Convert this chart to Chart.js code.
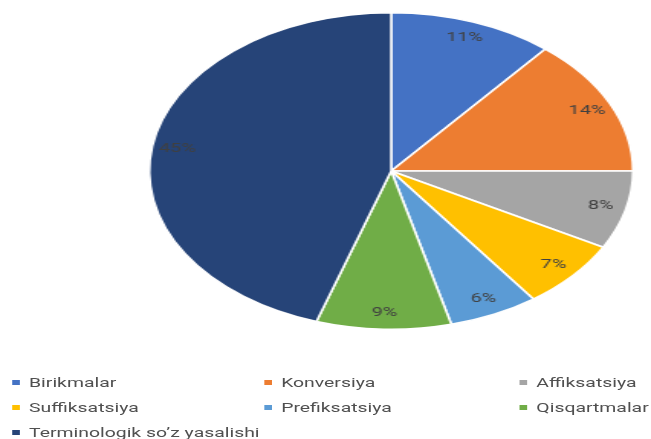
<!DOCTYPE html>
<html>
<head>
<meta charset="utf-8">
<script src="https://cdn.jsdelivr.net/npm/chart.js@4.4.1/dist/chart.umd.min.js"></script>
<style>
  html, body { margin: 0; padding: 0; background: #fff; overflow: hidden; }
  #wrap { position: absolute; left: 0; top: 0; width: 426px; height: 439px;
          transform-origin: 0 0; transform: scaleX(1.528); }
  #c { position: absolute; left: 0; top: 0; }
  #legend { position: absolute; left: 0; top: 0; width: 426px; height: 439px;
            font-family: Roboto, "Liberation Sans", Arial, sans-serif; font-size: 12.7px; color: #505050; }
  .item { position: absolute; white-space: nowrap; line-height: 16px; }
  .box { position: absolute; width: 5px; height: 5px; top: 5px; }
</style>
</head>
<body>
<div id="wrap">
  <canvas id="c" width="426" height="345"></canvas>
  <div id="legend"></div>
</div>
<script>
const categories = ["Birikmalar", "Konversiya", "Affiksatsiya", "Suffiksatsiya", "Prefiksatsiya", "Qisqartmalar", "Terminologik so\u2019z yasalishi"];
const values = [11, 14, 8, 7, 6, 9, 45];
const colors = ["#4472C4", "#ED7D31", "#A5A5A5", "#FFC000", "#5B9BD5", "#70AD47", "#264478"];

const labelPlugin = {
  id: 'pctLabels',
  afterDraw(chart) {
    const ctx = chart.ctx;
    const meta = chart.getDatasetMeta(0);
    const total = values.reduce((s, v) => s + v, 0);
    meta.data.forEach((arc, i) => {
      const p = arc.getProps(['x', 'y', 'startAngle', 'endAngle', 'outerRadius'], true);
      const mid = (p.startAngle + p.endAngle) / 2;
      const r = p.outerRadius * 0.895;
      const x = p.x + Math.cos(mid) * r;
      const y = p.y + Math.sin(mid) * r;
      ctx.save();
      ctx.fillStyle = '#404040';
      ctx.font = '13px Roboto, "Liberation Sans", Arial, sans-serif';
      ctx.textAlign = 'center';
      ctx.textBaseline = 'middle';
      ctx.fillText(Math.round(values[i] / total * 100) + '%', x, y);
      ctx.restore();
    });
  }
};

new Chart(document.getElementById('c'), {
  type: 'pie',
  data: {
    labels: categories,
    datasets: [{
      data: values,
      backgroundColor: colors,
      borderColor: '#ffffff',
      borderWidth: 1.5
    }]
  },
  options: {
    responsive: false,
    animation: false,
    layout: { padding: { left: 97, right: 11, top: 12, bottom: 15 } },
    plugins: { legend: { display: false }, tooltip: { enabled: false } }
  },
  plugins: [labelPlugin]
});

// HTML legend built from the data arrays (unstretched coordinates)
const colX = [8, 173, 340];
const rowY = [375, 400, 425];
const legend = document.getElementById('legend');
categories.forEach((lab, i) => {
  const d = document.createElement('div');
  d.className = 'item';
  d.style.left = colX[i % 3] + 'px';
  d.style.top = rowY[Math.floor(i / 3)] + 'px';
  d.style.paddingLeft = '11px';
  const b = document.createElement('span');
  b.className = 'box';
  b.style.left = '0px';
  b.style.background = colors[i];
  d.appendChild(b);
  d.appendChild(document.createTextNode(lab));
  legend.appendChild(d);
});
</script>
</body>
</html>
